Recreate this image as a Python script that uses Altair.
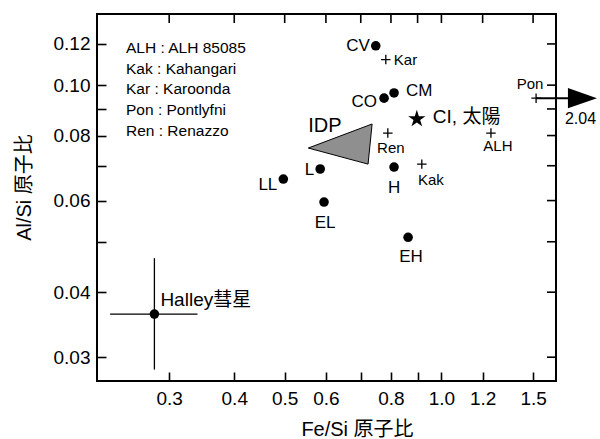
import altair as alt
import pandas as pd

FONT = "Liberation Sans, Noto Sans CJK JP, sans-serif"

# ---- axes ----
X_DOMAIN = [0.218, 1.66]
Y_DOMAIN = [0.027, 0.137]
X_TICKS = [0.3, 0.4, 0.5, 0.6, 0.7, 0.8, 0.9, 1.0, 1.2, 1.5]
X_LABELED = [0.3, 0.4, 0.5, 0.6, 0.8, 1.0, 1.2, 1.5]
Y_TICKS = [0.03, 0.04, 0.05, 0.06, 0.07, 0.08, 0.09, 0.10, 0.12]
Y_LABELED = [0.03, 0.04, 0.06, 0.08, 0.10, 0.12]
X_TITLE = "Fe/Si 原子比"
Y_TITLE = "Al/Si 原子比"

# ---- meteorite classes (filled circles) ----
CLASS_NAMES = ["CV", "CO", "CM", "LL", "L", "H", "EL", "EH"]
CLASS_FE_SI = [0.748, 0.776, 0.811, 0.497, 0.585, 0.811, 0.595, 0.863]
CLASS_AL_SI = [0.119, 0.0944, 0.0966, 0.066, 0.069, 0.0696, 0.0596, 0.0510]

# ---- individual meteorites (plus marks) ----
MET_NAMES = ["Kar", "Ren", "Kak", "ALH", "Pon"]
MET_FE_SI = [0.782, 0.789, 0.917, 1.245, 1.52]
MET_AL_SI = [0.112, 0.0809, 0.0705, 0.0809, 0.0944]

# ---- CI / solar ----
CI_NAME = ["CI, 太陽"]
CI_FE_SI = [0.897]
CI_AL_SI = [0.0861]

# ---- Halley ----
HALLEY_NAME = ["Halley彗星"]
HALLEY_FE_SI = [0.281]
HALLEY_AL_SI = [0.0363]
HALLEY_FE_RANGE = [0.231, 0.340]
HALLEY_AL_RANGE = [0.0284, 0.0465]

# ---- IDP region ----
IDP_NAME = "IDP"
IDP_FE_SI = [0.555, 0.736, 0.723]
IDP_AL_SI = [0.0757, 0.0842, 0.0705]

# ---- Pontlyfni off-scale arrow ----
PON_ACTUAL = ["2.04"]
ARROW_HEAD_FE_SI = [1.866]

LEGEND_LINES = [
    "ALH : ALH 85085",
    "Kak : Kahangari",
    "Kar : Karoonda",
    "Pon : Pontlyfni",
    "Ren : Renazzo",
]

# label styling: dx, dy, align, font size
LABEL_STYLE = {
    "CV": (-6, 0, "right", 17),
    "CO": (-7, 4, "right", 17),
    "CM": (12, -2, "left", 17),
    "LL": (-6, 6, "right", 17),
    "L": (-6, 1, "right", 17),
    "H": (0, 21, "center", 17),
    "EL": (1, 21, "center", 17),
    "EH": (3, 20, "center", 17),
    "Kar": (8, 0, "left", 15),
    "Ren": (3, 15, "center", 15),
    "Kak": (9, 16, "center", 15),
    "ALH": (7, 13, "center", 15),
    "Pon": (-6, -14, "center", 15),
    "CI, 太陽": (16, -2, "left", 19),
    "Halley彗星": (6, -14, "left", 19),
}

STAR_PATH = ("M0,-1L0.2245,-0.309L0.9511,-0.309L0.3633,0.118L0.5878,0.809L0,0.382"
             "L-0.5878,0.809L-0.3633,0.118L-0.9511,-0.309L-0.2245,-0.309Z")
PLUS_PATH = "M-1,0L1,0M0,-1L0,1"
ARROW_PATH = "M-1,-0.7L1,0L-1,0.7Z"

W, H = 459, 367
TICK = 9

xs = alt.Scale(type="log", domain=X_DOMAIN, nice=False, zero=False)
ys = alt.Scale(type="log", domain=Y_DOMAIN, nice=False, zero=False)


def label_expr(values, fmt):
    cond = " || ".join(f"abs(datum.value - {v}) < 1e-6" for v in values)
    return f"({cond}) ? format(datum.value, '{fmt}') : ''"


common_axis = dict(
    domain=False, grid=False, offset=-TICK, tickSize=TICK, tickWidth=1.6,
    tickColor="black", labelColor="black", labelFont=FONT, labelFontSize=19,
    titleFont=FONT, titleColor="black", titleFontWeight="normal",
)

bottom_axis = alt.Axis(
    orient="bottom", values=X_TICKS, labelExpr=label_expr(X_LABELED, ".1f"),
    labelPadding=8, title=X_TITLE, titleFontSize=20, titleX=260, titleY=63,
    titleAlign="center", titleBaseline="alphabetic", **common_axis)
left_axis = alt.Axis(
    orient="left", values=Y_TICKS, labelExpr=label_expr(Y_LABELED, ".2f"),
    labelPadding=7, title=Y_TITLE, titleFontSize=20, titleX=-76, titleY=173,
    titleAngle=-90, titleAlign="center", titleBaseline="alphabetic", **common_axis)


def X(field):
    return alt.X(field, type="quantitative", scale=xs, axis=bottom_axis)


def Y(field):
    return alt.Y(field, type="quantitative", scale=ys, axis=left_axis)


dots_df = pd.DataFrame({"name": CLASS_NAMES, "x": CLASS_FE_SI, "y": CLASS_AL_SI})
met_df = pd.DataFrame({"name": MET_NAMES, "x": MET_FE_SI, "y": MET_AL_SI})
ci_df = pd.DataFrame({"name": CI_NAME, "x": CI_FE_SI, "y": CI_AL_SI})
halley_df = pd.DataFrame({
    "name": HALLEY_NAME, "x": HALLEY_FE_SI, "y": HALLEY_AL_SI,
    "x_lo": [HALLEY_FE_RANGE[0]], "x_hi": [HALLEY_FE_RANGE[1]],
    "y_lo": [HALLEY_AL_RANGE[0]], "y_hi": [HALLEY_AL_RANGE[1]],
})
idp_df = pd.DataFrame({
    "x": IDP_FE_SI + IDP_FE_SI[:1],
    "y": IDP_AL_SI + IDP_AL_SI[:1],
    "o": list(range(len(IDP_FE_SI) + 1)),
})
pon_row = met_df[met_df["name"] == "Pon"]
arrow_df = pd.DataFrame({
    "x": pon_row["x"].tolist(), "x2": ARROW_HEAD_FE_SI,
    "y": pon_row["y"].tolist(), "t": PON_ACTUAL,
})

layers = []

# class dots
layers.append(
    alt.Chart(dots_df).mark_circle(size=92, color="black", opacity=1)
    .encode(x=X("x"), y=Y("y"))
)

# mirrored ticks on top and right frame edges
layers.append(
    alt.Chart(pd.DataFrame({"x": X_TICKS})).mark_rule(color="black", strokeWidth=1.6)
    .encode(x=X("x"), y=alt.value(0), y2=alt.value(TICK))
)
layers.append(
    alt.Chart(pd.DataFrame({"y": Y_TICKS})).mark_rule(color="black", strokeWidth=1.6)
    .encode(y=Y("y"), x=alt.value(W - TICK), x2=alt.value(W))
)

# IDP triangle
layers.append(
    alt.Chart(idp_df).mark_line(fill="#8f8f8f", stroke="black", strokeWidth=1)
    .encode(x=X("x"), y=Y("y"), order="o:Q")
)
layers.append(
    alt.Chart(pd.DataFrame({"x": [IDP_FE_SI[0]], "y": [IDP_AL_SI[0]], "t": [IDP_NAME]}))
    .mark_text(align="left", baseline="middle", dx=0, dy=-22, fontSize=20, font=FONT, color="black")
    .encode(x=X("x"), y=Y("y"), text="t:N")
)

# Halley error bars
layers.append(
    alt.Chart(halley_df).mark_rule(color="black", strokeWidth=1.3)
    .encode(x=X("x_lo"), x2="x_hi", y=Y("y"))
)
layers.append(
    alt.Chart(halley_df).mark_rule(color="black", strokeWidth=1.3)
    .encode(x=X("x"), y=Y("y_lo"), y2="y_hi")
)

# Pon arrow
layers.append(
    alt.Chart(arrow_df).mark_rule(color="black", strokeWidth=2)
    .encode(x=X("x"), x2="x2", y=Y("y"))
)
layers.append(
    alt.Chart(arrow_df).mark_point(shape=ARROW_PATH, filled=True, size=841,
                                   color="black", opacity=1)
    .encode(x=X("x2"), y=Y("y"))
)
layers.append(
    alt.Chart(arrow_df).mark_text(align="center", baseline="middle", dx=-2, dy=21,
                                  fontSize=16, font=FONT, color="black")
    .encode(x=X("x2"), y=Y("y"), text="t:N")
)

# Halley dot
layers.append(
    alt.Chart(halley_df).mark_circle(size=92, color="black", opacity=1)
    .encode(x=X("x"), y=Y("y"))
)
# plus marks
layers.append(
    alt.Chart(met_df).mark_point(shape=PLUS_PATH, filled=False, size=90,
                                 color="black", strokeWidth=1.3, opacity=1)
    .encode(x=X("x"), y=Y("y"))
)
# CI star
layers.append(
    alt.Chart(ci_df).mark_point(shape=STAR_PATH, filled=True, size=330, color="black", opacity=1)
    .encode(x=X("x"), y=Y("y"))
)

# labels
all_pts = pd.concat([dots_df, met_df, ci_df, halley_df[["name", "x", "y"]]], ignore_index=True)
for _, row in all_pts.iterrows():
    dx, dy, align, fs = LABEL_STYLE[row["name"]]
    layers.append(
        alt.Chart(pd.DataFrame({"x": [float(row["x"])], "y": [float(row["y"])], "t": [row["name"]]}))
        .mark_text(align=align, baseline="middle", dx=dx, dy=dy, fontSize=fs, font=FONT, color="black")
        .encode(x=X("x"), y=Y("y"), text="t:N")
    )

# legend block
layers.append(
    alt.Chart(pd.DataFrame({"t": ["\n".join(LEGEND_LINES)]}))
    .mark_text(align="left", baseline="alphabetic", lineBreak="\n", lineHeight=20.7,
               fontSize=15.5, font=FONT, color="black")
    .encode(x=alt.value(29), y=alt.value(39), text="t:N")
)

chart = (
    alt.layer(*layers)
    .properties(
        width=W, height=H,
        autosize=alt.AutoSizeParams(type="none"),
        padding={"left": 97, "top": 14, "right": 44, "bottom": 58},
        background="white",
    )
    .configure_view(stroke="black", strokeWidth=2)
)

chart.save("out.html", embed_options={"renderer": "svg", "actions": False})
